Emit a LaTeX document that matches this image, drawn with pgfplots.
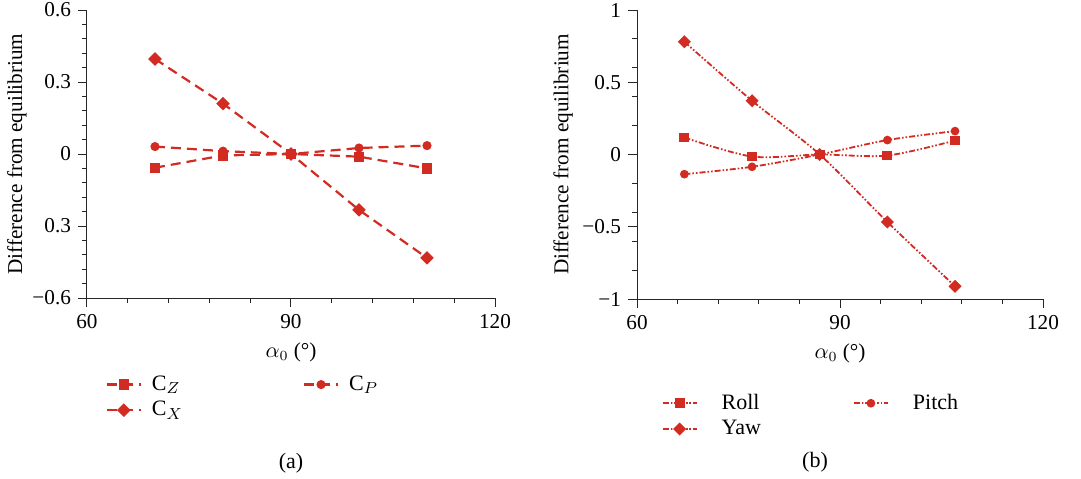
\documentclass[border=0pt]{standalone}
\usepackage{fontspec}
\setmainfont{Liberation Serif}
\usepackage{pgfplots}
\pgfplotsset{compat=1.18}
\definecolor{lred}{HTML}{D22B22}

\pgfplotsset{
  panel/.style={
    scale only axis,
    axis lines=left,
    axis line style={-, line width=0.5pt, black!85},
    tick align=outside,
    tick style={black!85, line width=0.5pt},
    major tick length=4.5pt, minor tick length=2.5pt,
    xmin=60, xmax=120, xtick={60,90,120}, xticklabels={60,90,120},
    minor x tick num=4,
    xlabel={$\alpha_0$ (°)},
    ylabel={Difference from equilibrium},
    xlabel style={at={(axis description cs:0.5,-0.188)}, anchor=center},
    ylabel style={anchor=center},
    font=\fontsize{10.6}{12}\selectfont,
    clip=false,
    legend columns=2,
    legend cell align=left,
    legend style={draw=none, fill=none, anchor=north west,
      font=\fontsize{11}{13}\selectfont, row sep=0pt},
  },
  dia/.style={mark=square*, mark size=1.85pt, mark options={solid, rotate=45}},
}

\begin{document}
\begin{tikzpicture}
\path[use as bounding box] (0pt,0pt) rectangle (540.5pt,239pt);

% (a)
\begin{axis}[panel,
    at={(43.5pt,90pt)}, width=204pt, height=144pt,
    ymin=-0.6, ymax=0.6,
    ytick={-0.6,-0.3,0,0.3,0.6},
    yticklabels={−0.6,0.3,0,0.3,0.6},
    minor y tick num=4,
    ylabel style={at={(axis description cs:-0.172,0.5)}},
    legend style={at={(0.03,-0.241)},
      /tikz/every odd column/.append style={column sep=3pt},
      /tikz/every even column/.append style={column sep=58pt}},
  ]
\addplot[lred, line width=1.1pt, dash pattern=on 5pt off 3pt,
  mark=square*, mark size=2pt, mark options={solid}]
  coordinates {(70,-0.057)(80,-0.006)(90,0)(100,-0.011)(110,-0.060)};
\addlegendentry{C$_{Z}$}
\addplot[lred, line width=1.1pt, dash pattern=on 5pt off 3pt,
  mark=*, mark size=1.7pt, mark options={solid}]
  coordinates {(70,0.031)(80,0.012)(90,0)(100,0.025)(110,0.035)};
\addlegendentry{C$_{P}$}
\addplot[lred, line width=1.1pt, dash pattern=on 5pt off 3pt, dia]
  coordinates {(70,0.396)(80,0.210)(90,0)(100,-0.233)(110,-0.433)};
\addlegendentry{C$_{X}$}
\end{axis}

% (b)
\begin{axis}[panel,
    at={(318.5pt,89.5pt)}, width=203pt, height=144.5pt,
    ymin=-1, ymax=1,
    ytick={-1,-0.5,0,0.5,1},
    yticklabels={−1,−0.5,0,0.5,1},
    minor ytick={-0.8,-0.6,-0.4,-0.2,0.2,0.4,0.6,0.8},
    ylabel style={at={(axis description cs:-0.182,0.5)}},
    legend style={at={(0.045,-0.30)},
      /tikz/every odd column/.append style={column sep=10pt},
      /tikz/every even column/.append style={column sep=44pt}},
  ]
\addplot[lred, line width=0.9pt, smooth,
  dash pattern=on 3pt off 1pt on 0.8pt off 1pt on 0.8pt off 1pt,
  mark=square*, mark size=2pt, mark options={solid}]
  coordinates {(67,0.118)(77,-0.014)(87,0)(97,-0.007)(107,0.097)};
\addlegendentry{Roll}
\addplot[lred, line width=0.9pt, smooth,
  dash pattern=on 3pt off 1pt on 0.8pt off 1pt on 0.8pt off 1pt,
  mark=*, mark size=1.7pt, mark options={solid}]
  coordinates {(67,-0.136)(77,-0.085)(87,0)(97,0.100)(107,0.162)};
\addlegendentry{Pitch}
\addplot[lred, line width=0.9pt, smooth,
  dash pattern=on 3pt off 1pt on 0.8pt off 1pt on 0.8pt off 1pt, dia]
  coordinates {(67,0.780)(77,0.372)(87,0)(97,-0.467)(107,-0.912)};
\addlegendentry{Yaw}
\end{axis}

\node[font=\fontsize{11}{13}\selectfont] at (145.5pt,7.5pt) {(a)};
\node[font=\fontsize{11}{13}\selectfont] at (407.5pt,8pt) {(b)};
\end{tikzpicture}
\end{document}
